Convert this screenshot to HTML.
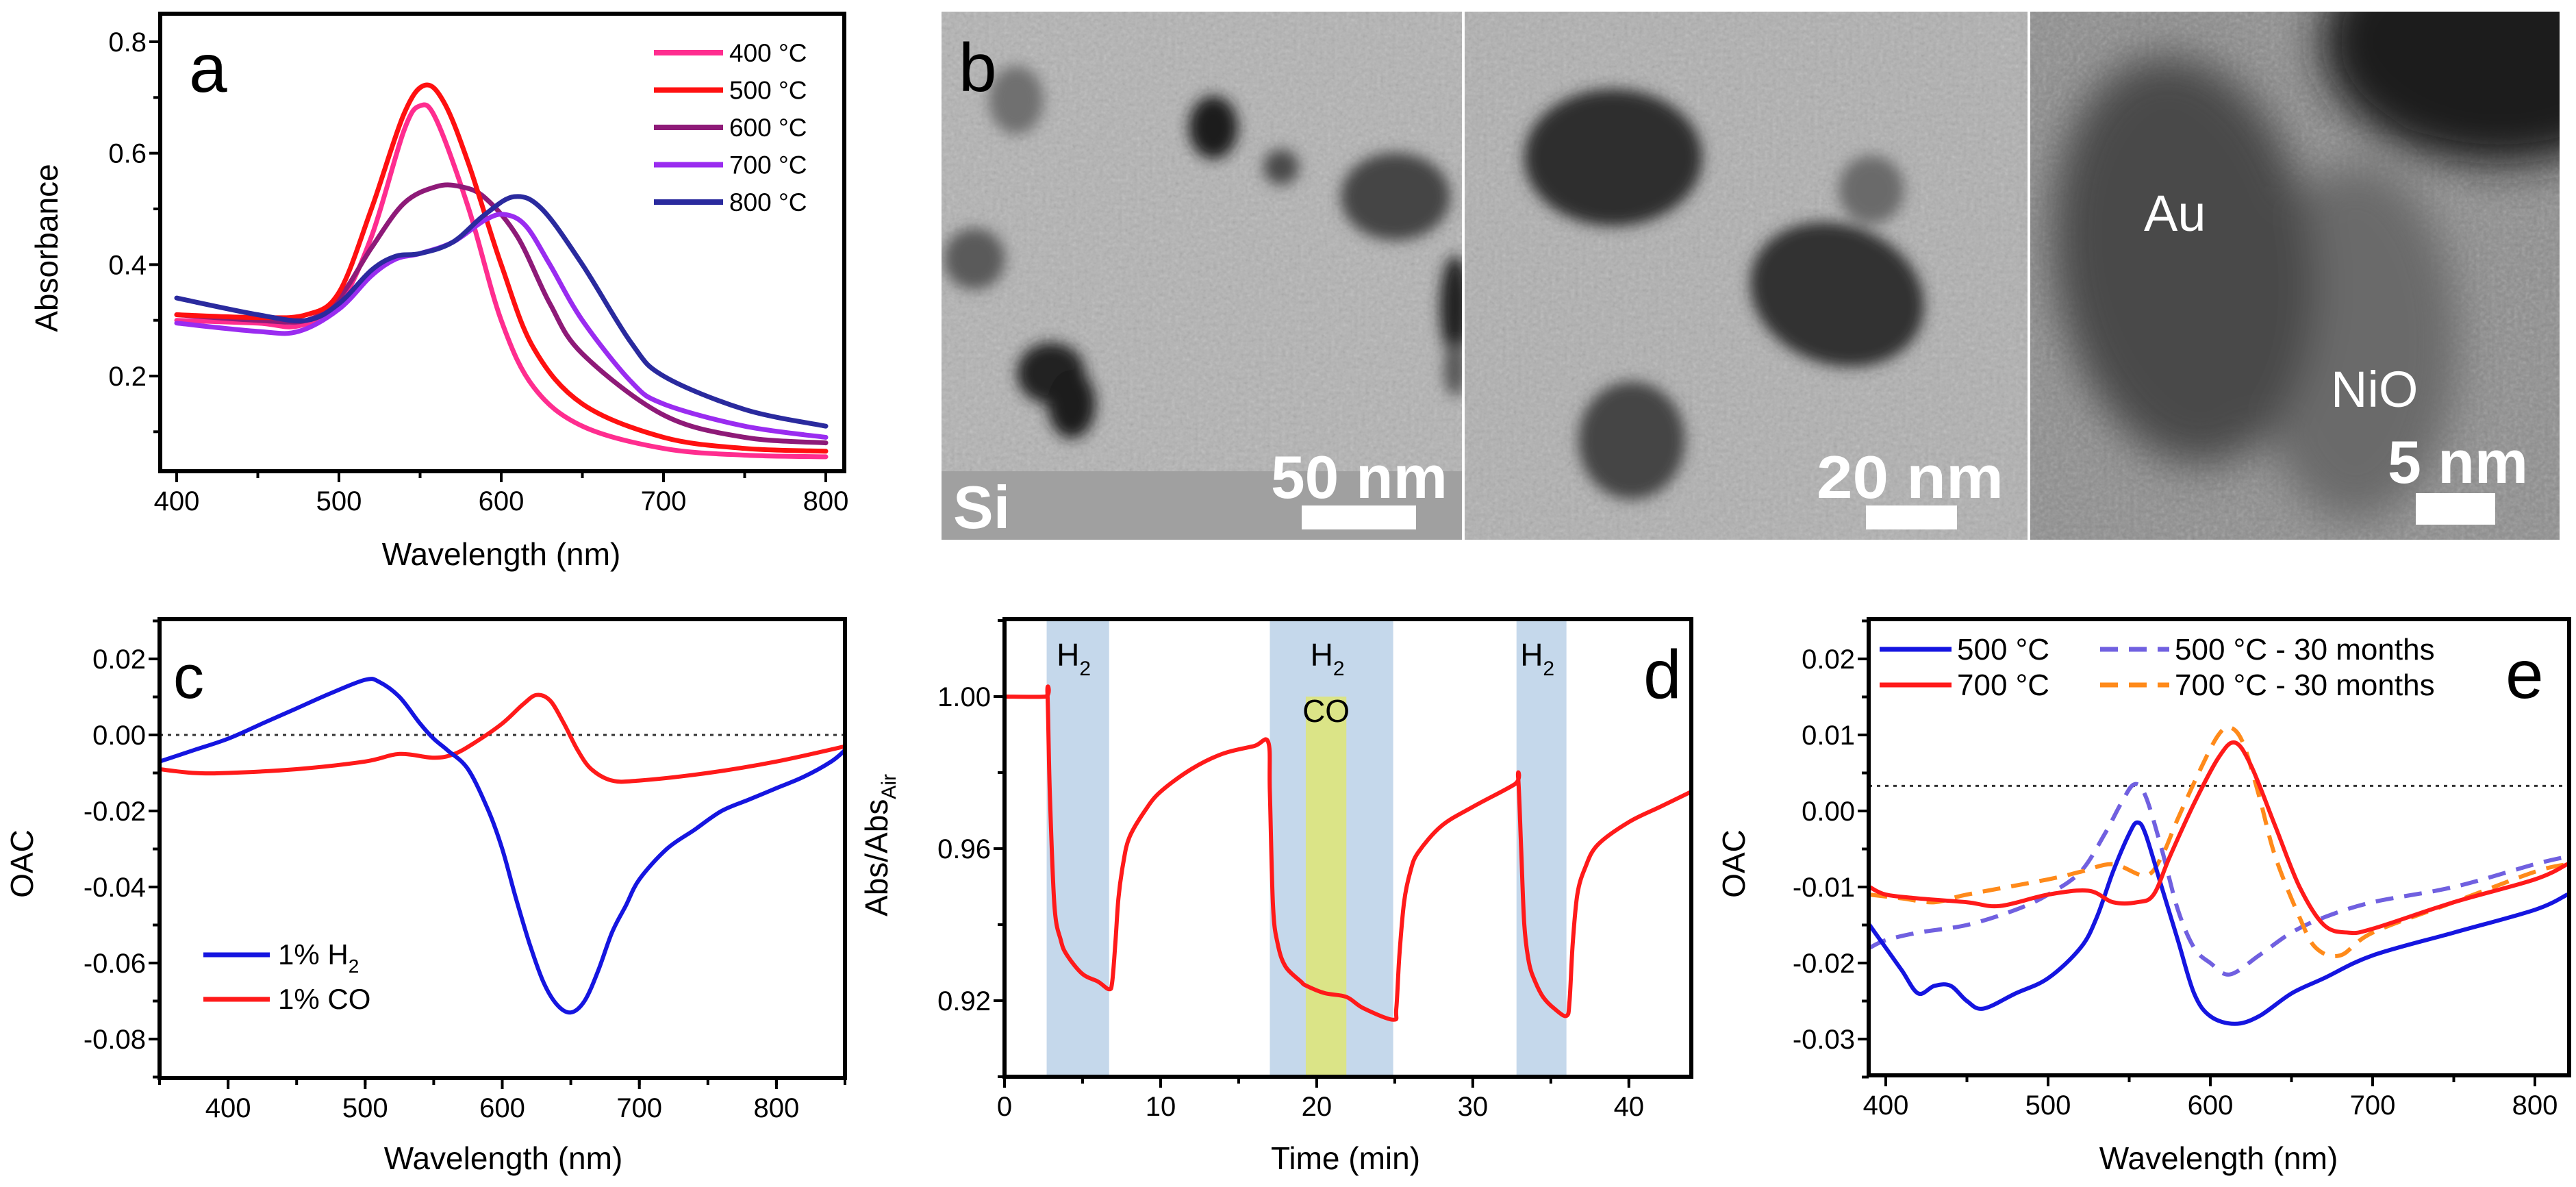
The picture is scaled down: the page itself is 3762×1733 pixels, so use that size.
<!DOCTYPE html>
<html><head><meta charset="utf-8"><style>
html,body{margin:0;padding:0;background:#fff;}
svg{display:block;font-family:"Liberation Sans",Arial,sans-serif;}
</style></head><body>
<svg id="fig" width="3762" height="1733" viewBox="0 0 3762 1733" xmlns="http://www.w3.org/2000/svg">
<defs>
<filter id="soft" x="-20%" y="-20%" width="140%" height="140%"><feGaussianBlur stdDeviation="10"/></filter>
<filter id="soft2" x="-30%" y="-30%" width="160%" height="160%"><feGaussianBlur stdDeviation="30"/></filter>
<filter id="grain"><feTurbulence type="fractalNoise" baseFrequency="0.18" numOctaves="2" seed="3"/><feColorMatrix type="saturate" values="0"/><feComponentTransfer><feFuncA type="linear" slope="0.35"/></feComponentTransfer></filter>
<clipPath id="cp1"><rect x="1375" y="17" width="760" height="771"/></clipPath>
<clipPath id="cp2"><rect x="2139" y="17" width="822" height="771"/></clipPath>
<clipPath id="cp3"><rect x="2965" y="17" width="773" height="771"/></clipPath>
</defs>

<!-- Panel b: TEM images -->
<g>
 <g clip-path="url(#cp1)">
  <rect x="1375" y="17" width="760" height="771" fill="#b3b3b3"/>
  <rect x="1375" y="17" width="760" height="771" filter="url(#grain)"/>
  <rect x="1375" y="688" width="760" height="100" fill="#a0a0a0"/>
  <g filter="url(#soft)">
   <ellipse cx="1484" cy="146" rx="40" ry="50" fill="#707070"/>
   <ellipse cx="1772" cy="186" rx="36" ry="46" fill="#1e1e1e"/>
   <ellipse cx="1871" cy="244" rx="26" ry="26" fill="#4a4a4a"/>
   <ellipse cx="2038" cy="287" rx="80" ry="64" fill="#444"/>
   <ellipse cx="1423" cy="378" rx="45" ry="45" fill="#5a5a5a"/>
   <ellipse cx="1535" cy="545" rx="50" ry="45" fill="#222"/>
   <ellipse cx="1565" cy="590" rx="35" ry="50" fill="#1a1a1a"/>
   <ellipse cx="2125" cy="448" rx="22" ry="75" fill="#222"/>
   <ellipse cx="2125" cy="539" rx="16" ry="40" fill="#555"/>
  </g>
 </g>
 <g clip-path="url(#cp2)">
  <rect x="2139" y="17" width="822" height="771" fill="#b0b0b0"/>
  <rect x="2139" y="17" width="822" height="771" filter="url(#grain)"/>
  <g filter="url(#soft)">
   <ellipse cx="2356" cy="230" rx="130" ry="100" fill="#2e2e2e"/>
   <ellipse cx="2733" cy="277" rx="48" ry="50" fill="#6a6a6a"/>
   <ellipse cx="2683" cy="430" rx="130" ry="102" fill="#303030" transform="rotate(20 2683 430)"/>
   <ellipse cx="2383" cy="643" rx="78" ry="86" fill="#444"/>
  </g>
 </g>
 <g clip-path="url(#cp3)">
  <rect x="2965" y="17" width="773" height="771" fill="#8e8e8e"/>
  <rect x="2965" y="17" width="773" height="771" filter="url(#grain)"/>
  <g filter="url(#soft2)">
   <ellipse cx="3440" cy="500" rx="150" ry="260" fill="#6a6a6a"/>
   <ellipse cx="3190" cy="380" rx="190" ry="300" fill="#4a4a4a" transform="rotate(-8 3190 380)"/>
   <ellipse cx="3650" cy="60" rx="260" ry="180" fill="#1e1e1e"/>
  </g>
 </g>
 <rect x="2135" y="17" width="4" height="771" fill="#fff"/>
 <rect x="2961" y="17" width="4" height="771" fill="#fff"/>
 <text x="1400" y="133" font-size="100" fill="#000">b</text>
 <text x="1392" y="771" font-size="88" font-weight="bold" fill="#fff">Si</text>
 <text x="1856" y="727" font-size="88" font-weight="bold" fill="#fff" textLength="258" lengthAdjust="spacingAndGlyphs">50 nm</text>
 <rect x="1901" y="738" width="167" height="35" fill="#fff"/>
 <text x="2653" y="727" font-size="88" font-weight="bold" fill="#fff" textLength="273" lengthAdjust="spacingAndGlyphs">20 nm</text>
 <rect x="2725" y="738" width="133" height="35" fill="#fff"/>
 <text x="3487" y="705" font-size="88" font-weight="bold" fill="#fff" textLength="205" lengthAdjust="spacingAndGlyphs">5 nm</text>
 <rect x="3528" y="720" width="116" height="46" fill="#fff"/>
 <text x="3131" y="337" font-size="74" fill="#fff">Au</text>
 <text x="3404" y="594" font-size="74" fill="#fff">NiO</text>
</g>

<g id="charts"></g>
</svg>
<script>
// ---------- Panel a data ----------
const aWl400=[400,450,475,500,520,540,550,560,580,600,620,650,700,750,800];
const aAbs400=[0.30,0.295,0.29,0.33,0.45,0.64,0.685,0.66,0.50,0.30,0.18,0.11,0.07,0.058,0.055];
const aWl500=[400,450,480,500,520,540,553,565,580,600,620,650,700,750,800];
const aAbs500=[0.31,0.305,0.31,0.35,0.50,0.67,0.722,0.69,0.58,0.40,0.25,0.15,0.09,0.07,0.065];
const aWl600=[400,450,480,500,520,540,560,575,590,610,630,650,700,750,800];
const aAbs600=[0.31,0.30,0.30,0.34,0.43,0.51,0.54,0.54,0.52,0.45,0.33,0.24,0.13,0.09,0.08];
const aWl700=[400,450,475,500,520,535,550,570,590,602,615,630,650,680,700,750,800];
const aAbs700=[0.295,0.28,0.28,0.32,0.38,0.41,0.42,0.44,0.48,0.49,0.47,0.40,0.30,0.19,0.15,0.11,0.09];
const aWl800=[400,450,480,500,520,535,550,570,590,608,625,650,680,700,750,800];
const aAbs800=[0.34,0.31,0.30,0.33,0.39,0.415,0.42,0.44,0.49,0.522,0.50,0.40,0.26,0.20,0.14,0.11];
const aLegend=["400 °C","500 °C","600 °C","700 °C","800 °C"];
const aXTicks=[400,500,600,700,800];
const aYTicks=[0.2,0.4,0.6,0.8];

// ---------- Panel c data ----------
const cWlH2=[350,375,400,425,450,475,500,510,525,540,550,560,575,590,600,610,620,630,640,650,660,670,680,690,700,720,740,760,780,800,820,840,850];
const cOacH2=[-0.007,-0.004,-0.001,0.003,0.007,0.011,0.0145,0.014,0.010,0.003,-0.001,-0.004,-0.009,-0.020,-0.030,-0.043,-0.055,-0.065,-0.071,-0.073,-0.070,-0.062,-0.052,-0.045,-0.038,-0.030,-0.025,-0.020,-0.017,-0.014,-0.011,-0.007,-0.004];
const cWlCO=[350,375,400,450,500,525,550,565,580,600,615,625,635,645,655,665,680,700,750,800,850];
const cOacCO=[-0.009,-0.010,-0.010,-0.009,-0.007,-0.005,-0.006,-0.005,-0.002,0.003,0.008,0.0105,0.009,0.003,-0.004,-0.009,-0.012,-0.012,-0.010,-0.007,-0.003];
const cXTicks=[400,500,600,700,800];
const cYTicks=[0.02,0.00,-0.02,-0.04,-0.06,-0.08];
const cYLabels=["0.02","0.00","-0.02","-0.04","-0.06","-0.08"];

// ---------- Panel d data ----------
const dTime=[0,2.6,2.75,2.9,3.2,3.6,4,5,6,6.7,6.9,7.1,7.3,7.6,8,9,10,12,14,16,16.9,17.0,17.2,17.5,18,19,19.3,20.5,21.9,23,24.9,25.1,25.3,25.6,26,26.5,28,30,32.7,32.9,33.1,33.3,33.6,34,34.5,35.2,36,36.2,36.4,36.7,37.2,38,40,42,44];
const dAbs=[1.0,1.0,1.001,0.975,0.945,0.936,0.932,0.927,0.925,0.923,0.925,0.935,0.947,0.956,0.963,0.970,0.975,0.981,0.985,0.987,0.988,0.975,0.945,0.935,0.929,0.925,0.924,0.922,0.921,0.918,0.915,0.918,0.932,0.946,0.954,0.959,0.966,0.971,0.977,0.979,0.960,0.940,0.930,0.925,0.921,0.918,0.916,0.920,0.935,0.948,0.955,0.961,0.967,0.971,0.975];
const dH2Start=[2.7,17.0,32.8];
const dH2End=[6.7,24.9,36.0];
const dCOStart=19.3, dCOEnd=21.9;
const dXTicks=[0,10,20,30,40];
const dYTicks=[0.92,0.96,1.00];
const dYLabels=["0.92","0.96","1.00"];

// ---------- Panel e data ----------
const eWl500=[390,400,410,420,430,440,450,460,480,500,520,530,540,550,555,560,570,580,590,600,615,630,650,670,700,750,800,820];
const eOac500=[-0.015,-0.018,-0.021,-0.024,-0.023,-0.023,-0.025,-0.026,-0.024,-0.022,-0.018,-0.014,-0.008,-0.003,-0.0015,-0.003,-0.010,-0.017,-0.024,-0.027,-0.028,-0.027,-0.024,-0.022,-0.019,-0.016,-0.013,-0.011];
const eWl500m=[390,400,420,450,480,500,520,535,545,553,560,570,580,590,600,612,630,650,670,700,750,800,820];
const eOac500m=[-0.018,-0.017,-0.016,-0.015,-0.013,-0.011,-0.008,-0.003,0.001,0.0035,0.002,-0.005,-0.013,-0.018,-0.020,-0.0215,-0.019,-0.016,-0.014,-0.012,-0.010,-0.007,-0.006];
const eWl700=[390,400,420,450,470,500,525,540,555,565,575,590,605,615,625,640,655,670,685,700,750,800,820];
const eOac700=[-0.010,-0.011,-0.0115,-0.012,-0.0125,-0.011,-0.0105,-0.012,-0.012,-0.011,-0.006,0.001,0.007,0.009,0.006,-0.002,-0.010,-0.015,-0.016,-0.0155,-0.012,-0.009,-0.007];
const eWl700m=[390,410,430,450,500,520,540,560,570,580,595,605,612,620,630,640,655,665,680,700,750,800,820];
const eOac700m=[-0.011,-0.0115,-0.012,-0.011,-0.009,-0.008,-0.007,-0.0085,-0.006,-0.001,0.006,0.010,0.011,0.009,0.002,-0.006,-0.014,-0.018,-0.019,-0.016,-0.012,-0.008,-0.007];
const eXTicks=[400,500,600,700,800];
const eYTicks=[0.02,0.01,0.00,-0.01,-0.02,-0.03];
const eYLabels=["0.02","0.01","0.00","-0.01","-0.02","-0.03"];

const NS="http://www.w3.org/2000/svg";
const root=document.getElementById('charts');
function mk(tag,attrs,parent){const e=document.createElementNS(NS,tag);for(const k in attrs)e.setAttribute(k,attrs[k]);(parent||root).appendChild(e);return e;}
function lin(d0,d1,r0,r1){return v=>r0+(v-d0)*(r1-r0)/(d1-d0);}
function smooth(pts){
  let d="M"+pts[0][0].toFixed(1)+","+pts[0][1].toFixed(1);
  for(let i=0;i<pts.length-1;i++){
    const p0=pts[Math.max(0,i-1)],p1=pts[i],p2=pts[i+1],p3=pts[Math.min(pts.length-1,i+2)];
    const c1x=p1[0]+(p2[0]-p0[0])/6,c1y=p1[1]+(p2[1]-p0[1])/6;
    const c2x=p2[0]-(p3[0]-p1[0])/6,c2y=p2[1]-(p3[1]-p1[1])/6;
    d+=" C"+c1x.toFixed(1)+","+c1y.toFixed(1)+" "+c2x.toFixed(1)+","+c2y.toFixed(1)+" "+p2[0].toFixed(1)+","+p2[1].toFixed(1);
  }
  return d;
}
function series(g,xs,ys,X,Y,color,w,dash,name){
  const pts=xs.map((x,i)=>[X(x),Y(ys[i])]);
  const p=mk('path',{d:smooth(pts),fill:'none',stroke:color,'stroke-width':w,'stroke-linejoin':'round','stroke-linecap':dash?'butt':'round'},g);
  if(dash)p.setAttribute('stroke-dasharray',dash);
  
  
  return p;
}
function frame(g,L,T,R,B,X,Y,xt,xl,yt,yl,xminor,yminor,fs){
  for(const v of xminor){const t=mk('line',{x1:X(v),x2:X(v),y1:B,y2:B+10,stroke:'#000','stroke-width':4},g);
    
    }
  for(const v of yminor){const t=mk('line',{x1:L-10,x2:L,y1:Y(v),y2:Y(v),stroke:'#000','stroke-width':4},g);
    
    }
  xt.forEach((v,i)=>{
    const t=mk('line',{x1:X(v),x2:X(v),y1:B,y2:B+16,stroke:'#000','stroke-width':4},g);
    
    
    const tx=mk('text',{x:X(v),y:B+57,'font-size':fs,'text-anchor':'middle'},g);tx.textContent=xl[i];
    
    
  });
  yt.forEach((v,i)=>{
    const t=mk('line',{x1:L-16,x2:L,y1:Y(v),y2:Y(v),stroke:'#000','stroke-width':4},g);
    
    
    const tx=mk('text',{x:L-20,y:Y(v)+14,'font-size':fs,'text-anchor':'end'},g);tx.textContent=yl[i];
    
    
  });
  const r=mk('rect',{x:L,y:T,width:R-L,height:B-T,fill:'none',stroke:'#000','stroke-width':6},g);
  
  
}
function txt(g,x,y,s,fs,anchor,name,extra){
  const t=mk('text',Object.assign({x:x,y:y,'font-size':fs,'text-anchor':anchor||'start'},extra||{}),g);
  t.textContent=s;
  
  
  return t;
}
function range(a,b,s){const r=[];for(let v=a;v<=b+1e-9;v+=s)r.push(+v.toFixed(6));return r;}

// ======== Panel a ========
(function(){
  const g=mk('g',{});
  
  
  const L=234,R=1233,T=20,B=688;
  const X=lin(400,800,258,1206), Y=lin(0.2,0.8,549,61);
  const cols=['#ff2d8f','#ff1010','#8e1a78','#9a2cf0','#2a2a9e'];
  const xs=[aWl400,aWl500,aWl600,aWl700,aWl800], ys=[aAbs400,aAbs500,aAbs600,aAbs700,aAbs800];
  frame(g,L,T,R,B,X,Y,aXTicks,aXTicks.map(String),aYTicks,aYTicks.map(v=>v.toFixed(1)),range(450,750,100),[0.1,0.3,0.5,0.7],40);
  [0,2,1,3,4].forEach(i=>series(g,xs[i],ys[i],X,Y,cols[i],7,null,'series-'+aLegend[i].replace(' °C','c')));
  txt(g,276,134,'a',100,'start','panel-label-a');
  aLegend.forEach((s,i)=>{
    const y=77+i*54.5;
    const l=mk('line',{x1:955,x2:1056,y1:y,y2:y,stroke:cols[i],'stroke-width':8},g);
    
    
    txt(g,1065,y+13,s,37,'start','legend-entry');
  });
  txt(g,732,825,'Wavelength (nm)',46,'middle','x-axis-title');
  txt(g,0,0,'Absorbance',46,'middle','y-axis-title',{transform:'translate(84,362) rotate(-90)'});
})();

// ======== Panel c ========
(function(){
  const g=mk('g',{});
  
  
  const L=233,R=1234,T=904,B=1574;
  const X=lin(350,850,233,1234), Y=lin(0,0.02,1073,962);
  const z=mk('line',{x1:L,x2:R,y1:Y(0),y2:Y(0),stroke:'#333','stroke-width':3,'stroke-dasharray':'5 7'},g);
  
  
  series(g,cWlCO,cOacCO,X,Y,'#ff1a1a',6,null,'series-co');
  series(g,cWlH2,cOacH2,X,Y,'#1515e0',6,null,'series-h2');
  frame(g,L,T,R,B,X,Y,cXTicks,cXTicks.map(String),cYTicks,cYLabels,range(350,850,50),range(-0.09,0.03,0.01),40);
  txt(g,253,1019,'c',90,'start','panel-label-c');
  const l1=mk('line',{x1:297,x2:394,y1:1394,y2:1394,stroke:'#1515e0','stroke-width':7},g);
  
  
  const t1=txt(g,406,1408,'1% H',42,'start','legend-entry-h2');
  const s1=mk('tspan',{'font-size':28,dy:12},t1);s1.textContent='2';
  const l2=mk('line',{x1:297,x2:394,y1:1459,y2:1459,stroke:'#ff1a1a','stroke-width':7},g);
  
  
  txt(g,406,1473,'1% CO',42,'start','legend-entry-co');
  txt(g,735,1707,'Wavelength (nm)',46,'middle','x-axis-title');
  txt(g,0,0,'OAC',46,'middle','y-axis-title',{transform:'translate(48,1261) rotate(-90)'});
})();

// ======== Panel d ========
(function(){
  const g=mk('g',{});
  
  
  const L=1467,R=2470,T=904,B=1572;
  const X=lin(0,44,1467,2470), Y=lin(0.92,1.00,1461,1017);
  dH2Start.forEach((s,i)=>{
    const r=mk('rect',{x:X(s),y:T,width:X(dH2End[i])-X(s),height:B-T,fill:'#c5d8eb'},g);
    
    
    txt(g,(X(s)+X(dH2End[i]))/2-6,972,'H',46,'middle','h2-band-label').appendChild((()=>{const t=document.createElementNS(NS,'tspan');t.setAttribute('font-size','30');t.setAttribute('dy','14');t.textContent='2';return t;})());
  });
  const co=mk('rect',{x:X(dCOStart),y:Y(1.0),width:X(dCOEnd)-X(dCOStart),height:B-Y(1.0),fill:'#dbe487'},g);
  
  
  txt(g,(X(dCOStart)+X(dCOEnd))/2,1054,'CO',46,'middle','co-band-label');
  series(g,dTime,dAbs,X,Y,'#ff1a1a',6,null,'series-abs-ratio');
  frame(g,L,T,R,B,X,Y,dXTicks,dXTicks.map(String),dYTicks,dYLabels,range(0,40,5),range(0.90,1.02,0.02),40);
  txt(g,2400,1019,'d',100,'start','panel-label-d');
  txt(g,1965,1707,'Time (min)',46,'middle','x-axis-title');
  const yt=txt(g,0,0,'Abs/Abs',46,'middle','y-axis-title',{transform:'translate(1296,1234) rotate(-90)'});
  const sb=mk('tspan',{'font-size':30,dy:12},yt);sb.textContent='Air';
})();

// ======== Panel e ========
(function(){
  const g=mk('g',{});
  
  
  const L=2729,R=3752,T=904,B=1570;
  const X=lin(400,800,2754,3702), Y=lin(0,0.01,1184,1073);
  const z=mk('line',{x1:L,x2:R,y1:Y(0.0033),y2:Y(0.0033),stroke:'#333','stroke-width':3,'stroke-dasharray':'5 7'},g);
  
  
  series(g,eWl500m,eOac500m,X,Y,'#7060e0',6,'26 16','series-500c-30months');
  series(g,eWl700m,eOac700m,X,Y,'#ff8a1a',6,'26 16','series-700c-30months');
  series(g,eWl500,eOac500,X,Y,'#1515e0',6,null,'series-500c');
  series(g,eWl700,eOac700,X,Y,'#ff1a1a',6,null,'series-700c');
  frame(g,L,T,R,B,X,Y,eXTicks,eXTicks.map(String),eYTicks,eYLabels,range(450,750,100),range(-0.035,0.025,0.005),40);
  txt(g,3659,1019,'e',100,'start','panel-label-e');
  const leg=[[2745,2850,948,'#1515e0',null,'500 °C',2858],[2745,2850,1000,'#ff1a1a',null,'700 °C',2858],[3067,3168,948,'#7060e0','26 16','500 °C - 30 months',3176],[3067,3168,1000,'#ff8a1a','26 16','700 °C - 30 months',3176]];
  leg.forEach(r=>{
    const l=mk('line',{x1:r[0],x2:r[1],y1:r[2],y2:r[2],stroke:r[3],'stroke-width':7},g);
    if(r[4])l.setAttribute('stroke-dasharray',r[4]);
    
    
    txt(g,r[6],r[2]+15,r[5],44,'start','legend-entry');
  });
  txt(g,3240,1707,'Wavelength (nm)',46,'middle','x-axis-title');
  txt(g,0,0,'OAC',46,'middle','y-axis-title',{transform:'translate(2548,1261) rotate(-90)'});
})();
</script>
</body></html>
